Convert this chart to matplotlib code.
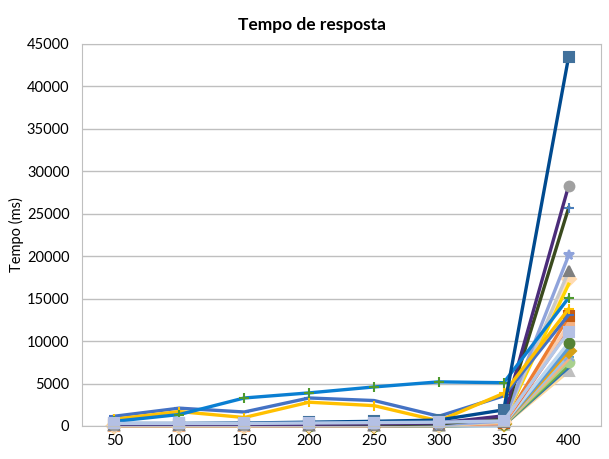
import matplotlib
matplotlib.use("Agg")
import matplotlib.pyplot as plt

plt.rcParams['font.family'] = ['Lato', 'DejaVu Sans']

categorias = ["50", "100", "150", "200", "250", "300", "350", "400"]

# cada série: tempos em ms
s_navy      = [300, 300, 350, 450, 550, 700, 1900, 43500]
s_roxo      = [150, 150, 150, 200, 250, 350, 1200, 28300]
s_oliva     = [100, 100, 100, 150, 150, 250, 900, 25700]
s_lavanda   = [80, 80, 80, 100, 100, 150, 600, 20100]
s_cinza     = [60, 60, 60, 80, 80, 120, 500, 18200]
s_pessego   = [50, 50, 50, 60, 60, 100, 450, 17300]
s_amarelo2  = [70, 70, 70, 90, 90, 130, 550, 16700]
s_azulvivo  = [550, 1350, 3300, 3900, 4600, 5200, 5100, 15100]
s_amarelo   = [800, 1700, 1000, 2800, 2400, 600, 3850, 13800]
s_azulmedio = [1150, 2100, 1650, 3300, 3000, 1150, 3550, 13100]
s_laranja   = [60, 60, 60, 80, 80, 120, 400, 12900]
s_salmao    = [50, 50, 50, 70, 70, 100, 350, 11950]
s_vermelho  = [40, 40, 40, 60, 60, 90, 300, 11300]
s_azulcinza = [300, 300, 300, 350, 400, 450, 600, 11100]
s_verde     = [40, 40, 40, 50, 50, 80, 250, 9800]
s_celeste   = [30, 30, 30, 50, 50, 70, 250, 9200]
s_ouro      = [30, 30, 30, 40, 40, 60, 200, 8800]
s_azulclaro = [30, 30, 30, 40, 40, 60, 200, 8300]
s_laranjacl = [20, 20, 20, 30, 30, 50, 150, 7900]
s_verdecl   = [20, 20, 20, 30, 30, 50, 150, 7550]
s_verdeol   = [20, 20, 20, 30, 30, 40, 120, 7200]
s_azulesc   = [10, 10, 10, 20, 20, 30, 100, 6900]
s_cinzacl   = [10, 10, 10, 20, 20, 30, 100, 6450]
s_base      = [0, 0, 0, 0, 0, 0, 0, 8100]

series = [
    (s_base,      "#9DC3E6", "+", "#5B9BD5"),
    (s_cinzacl,   "#FFD99A", "^", "#BFBFBF"),
    (s_azulesc,   "#2E75B6", None, None),
    (s_verdeol,   "#70AD47", None, None),
    (s_verdecl,   "#A9D18E", "o", "#A9D18E"),
    (s_laranjacl, "#F4B183", None, None),
    (s_azulclaro, "#9DC3E6", "x", "#8FAADC"),
    (s_ouro,      "#F0A30A", "D", "#D4A017"),
    (s_celeste,   "#5B9BD5", None, None),
    (s_verde,     "#BDD7EE", "o", "#548235"),
    (s_vermelho,  "#FF5A1F", None, None),
    (s_salmao,    "#F8CBAD", "s", "#F4B183"),
    (s_laranja,   "#ED7D31", "s", "#C55A11"),
    (s_pessego,   "#FFE0C0", "D", "#FFDAB0"),
    (s_amarelo2,  "#FFD500", None, None),
    (s_cinza,     "#C9C9C9", "^", "#7F7F7F"),
    (s_lavanda,   "#8FA3DB", "*", "#8FA3DB"),
    (s_oliva,     "#3A4A1E", "+", "#4A7EBB"),
    (s_roxo,      "#4B2C7A", "o", "#A0A0A0"),
    (s_azulmedio, "#4472C4", "_", "#4472C4"),
    (s_amarelo,   "#FFC000", "+", "#FFC000"),
    (s_azulvivo,  "#0A7FD2", "+", "#4E9A2E"),
    (s_navy,      "#004A8F", "s", "#41719C"),
    (s_azulcinza, "#B4C7E7", "s", "#B4C0E4"),
]

fig = plt.figure(figsize=(6.09, 4.59), dpi=100)
ax = fig.add_axes([0.1346, 0.0719, 0.8524, 0.8323])

x = list(range(len(categorias)))
for vals, cor, mk, mcor in series:
    if mk is None:
        ax.plot(x, vals, color=cor, lw=2.4, solid_joinstyle="round", clip_on=False)
    else:
        ax.plot(x, vals, color=cor, lw=2.4, marker=mk, ms=7, mew=1.5,
                mfc=mcor, mec=mcor, solid_joinstyle="round", clip_on=False)

ax.set_xlim(-0.5, 7.5)
ax.set_ylim(0, 45000)
ax.set_yticks(range(0, 45001, 5000))
ax.set_xticks(x)
ax.set_xticklabels(categorias)
ax.grid(axis="y", color="#BFBFBF", lw=1)
ax.set_axisbelow(True)
for sp in ax.spines.values():
    sp.set_color("#BFBFBF")
ax.tick_params(axis="y", length=0, labelsize=10.5, colors="#000000", pad=9)
ax.tick_params(axis="x", length=0, labelsize=10.5, colors="#000000", pad=6)
ax.set_ylabel("Tempo (ms)", fontsize=10.5, labelpad=2)
fig.text(0.512, 0.945, "Tempo de resposta", ha="center", va="center",
         fontsize=12.5, fontweight="bold")

fig.savefig("out.png", dpi=100)
